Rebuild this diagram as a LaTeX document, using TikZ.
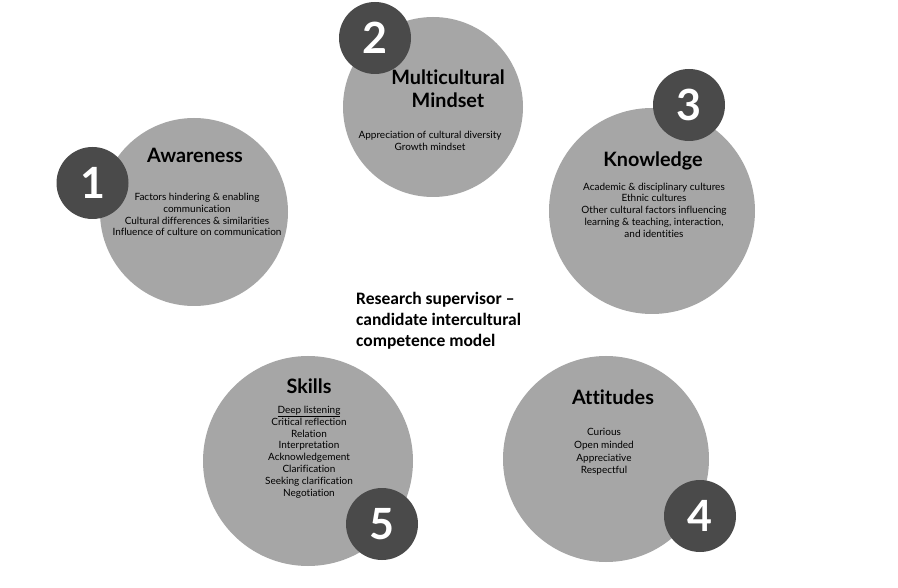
\documentclass[tikz,border=0pt]{standalone}
\usepackage{fontspec}
\setmainfont{Lato}[Ligatures={TeX,NoCommon}]
\newfontfamily\calib{Carlito}[Ligatures=TeX]
\definecolor{circfill}{HTML}{A6A6A6}
\definecolor{badgefill}{HTML}{4A4A4A}
\begin{document}
\begin{tikzpicture}[x=1pt,y=-1pt,
  bigcirc/.style={circle,fill=circfill,draw=none,inner sep=0pt},
  badge/.style={circle,fill=badgefill,draw=none,inner sep=0pt,minimum size=72pt,text=white,font=\fontsize{43}{43}\selectfont\bfseries},
  ttl/.style={align=center,font=\fontsize{19.8}{23}\selectfont\bfseries,text=black,inner sep=0pt},
  body/.style={align=center,font=\fontsize{10}{11.8}\selectfont,text=black,inner sep=0pt}]
\useasboundingbox[fill=white] (0,0) rectangle (898,588);
% big circles
\node[bigcirc,minimum size=188pt] (aw) at (194,212) {};
\node[bigcirc,minimum size=180pt] (mm) at (433,107) {};
\node[bigcirc,minimum size=206pt] (kn) at (652,211) {};
\node[bigcirc,minimum size=210pt] (sk) at (308,461) {};
\node[bigcirc,minimum size=206pt] (at) at (606,459) {};
% badges
\node[badge] (b1) at (92.5,183) {1};
\node[badge] (b2) at (375,38) {2};
\node[badge] (b3) at (689,105) {3};
\node[badge] (b5) at (382,524) {5};
\node[badge] (b4) at (700,516) {4};
% titles
\node[ttl] (awt) at (195,155) {Awareness};
\node[ttl] (mmt) at (448,89) {Multicultural\\Mindset};
\node[ttl] (knt) at (653,161) {Knowledge};
\node[ttl] (skt) at (309,386) {Skills};
\node[ttl] (att) at (613,397) {Attitudes};
% bodies
\node[body] (awb) at (197,214.5) {Factors hindering \& enabling\\communication\\Cultural differences \& similarities\\Influence of culture on communication};
\node[body] (mmb) at (430,141) {Appreciation of cultural diversity\\Growth mindset};
\node[body] (knb) at (654,210) {Academic \& disciplinary cultures\\Ethnic cultures\\Other cultural factors influencing\\learning \& teaching, interaction,\\and identities};
\node[body] (skb) at (309,452) {\underline{Deep listening}\\Critical reflection\\Relation\\Interpretation\\Acknowledgement\\Clarification\\Seeking clarification\\Negotiation};
\node[body,font=\fontsize{10}{12.6}\selectfont] (atb) at (604,452) {Curious\\Open minded\\Appreciative\\Respectful};
% centre title
\node[anchor=west,align=left,inner sep=0pt,font=\calib\fontsize{17.5}{21}\selectfont\bfseries] (ct) at (356,321) {Research supervisor \textendash\\candidate intercultural\\competence model};
\end{tikzpicture}
\end{document}
